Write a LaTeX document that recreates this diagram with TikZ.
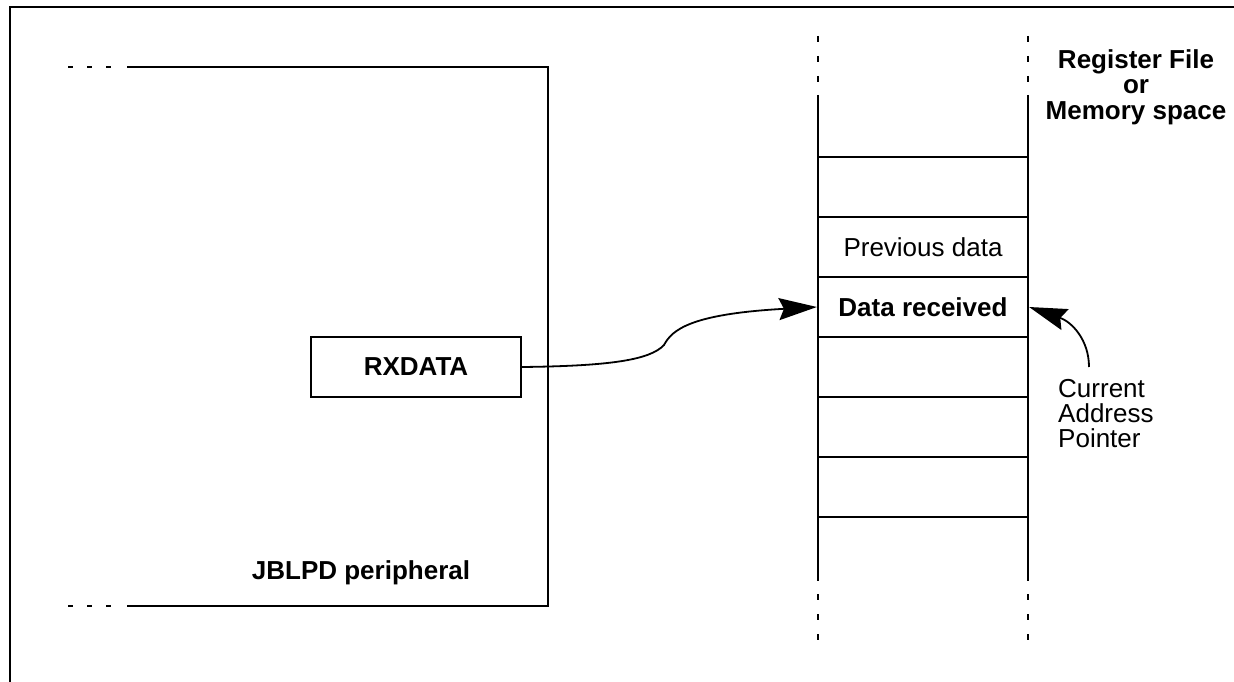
\documentclass[tikz,border=0pt]{standalone}
\usepackage{fontspec}
\setmainfont{Liberation Sans}
\usetikzlibrary{arrows.meta}
\begin{document}
\begin{tikzpicture}[x=1pt,y=-1pt,
  frame/.style={line width=2.8pt},
  box/.style={line width=2.2pt},
  dashline/.style={line width=2.2pt,dash pattern=on 5pt off 14pt},
  vdash/.style={line width=2.2pt,dash pattern=on 6pt off 14pt},
  cell/.style={draw,line width=2.2pt,minimum width=210pt,minimum height=60pt,inner sep=0pt,font=\fontsize{26}{26}\selectfont},
  conn/.style={line width=1.8pt,-{Stealth[length=38pt,width=22pt,inset=5pt]}},
  ptr/.style={line width=1.8pt,-{Stealth[length=38pt,width=22pt,inset=5pt]}},
  lbl/.style={font=\fontsize{26}{25.5}\selectfont\bfseries,inner sep=0pt},
  txt/.style={font=\fontsize{26}{25}\selectfont,inner sep=0pt}]
\useasboundingbox (0,0) rectangle (1234,682);
% outer frame (top and left edges only)
\draw[frame] (10,682) -- (10,7) -- (1234,7);
% peripheral block
\draw[dashline] (68,67) -- (118,67);
\draw[box] (127,67) -- (548,67) -- (548,606) -- (127,606);
\draw[dashline] (68,606) -- (118,606);
\node[lbl,anchor=base] (periph) at (361,579) {JBLPD peripheral};
\node[draw,box,minimum width=210pt,minimum height=60pt,inner sep=0pt,
      font=\fontsize{26}{26}\selectfont\bfseries] (rx) at (416,367) {RXDATA};
% memory column
\draw[box] (818,95) -- (818,581);
\draw[box] (1028,95) -- (1028,581);
\draw[vdash] (818,36) -- (818,84);
\draw[vdash] (1028,36) -- (1028,84);
\draw[vdash] (818,594) -- (818,642);
\draw[vdash] (1028,594) -- (1028,642);
\node[cell] (c1) at (923,187) {};
\node[cell] (c2) at (923,247) {Previous data};
\node[cell] (c3) at (923,307) {\bfseries Data received};
\node[cell] (c4) at (923,367) {};
\node[cell] (c5) at (923,427) {};
\node[cell] (c6) at (923,487) {};
\node[lbl,anchor=north,align=center] (hdr) at (1136,49) {Register File\\or\\Memory space};
% connectors
\draw[conn] (rx.east) .. controls (610,366) and (650,360) .. (664,345)
  .. controls (672,330) and (690,314) .. (c3.west);
\node[txt,anchor=north west,align=left] (cap) at (1058,379) {Current\\Address\\Pointer};
\coordinate (pstart) at (1089,367);
\draw[ptr] (pstart) .. controls (1089,340) and (1072,322) .. (c3.east);
\end{tikzpicture}
\end{document}
